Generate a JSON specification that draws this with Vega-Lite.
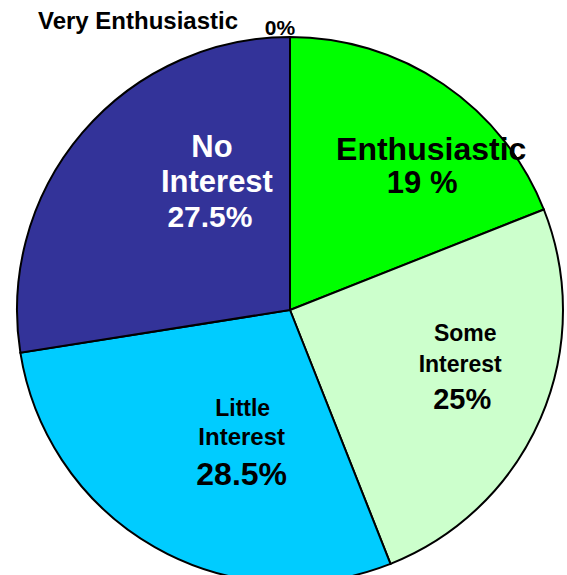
{
  "$schema": "https://vega.github.io/schema/vega-lite/v6.json",
  "autosize": "none",
  "width": 580,
  "height": 620,
  "padding": 0,
  "background": "white",
  "config": {"view": {"stroke": null}},
  "data": {
    "values": [
      {"cat": "Very Enthusiastic", "value": 0, "rank": 1, "l1": "Very Enthusiastic", "l2": "", "pct": "0%"},
      {"cat": "Enthusiastic", "value": 19, "rank": 2, "l1": "Enthusiastic", "l2": "", "pct": "19 %"},
      {"cat": "Some Interest", "value": 25, "rank": 3, "l1": "Some", "l2": "Interest", "pct": "25%"},
      {"cat": "Little Interest", "value": 28.5, "rank": 4, "l1": "Little", "l2": "Interest", "pct": "28.5%"},
      {"cat": "No Interest", "value": 27.5, "rank": 5, "l1": "No", "l2": "Interest", "pct": "27.5%"}
    ]
  },
  "encoding": {
    "theta": {"field": "value", "type": "quantitative", "stack": true},
    "order": {"field": "rank", "type": "quantitative"}
  },
  "layer": [
    {
      "mark": {"type": "arc", "radius": 273, "stroke": "black", "strokeWidth": 2},
      "encoding": {
        "color": {
          "field": "cat",
          "type": "nominal",
          "legend": null,
          "scale": {
            "domain": ["Very Enthusiastic", "Enthusiastic", "Some Interest", "Little Interest", "No Interest"],
            "range": ["#9999FF", "#00FF00", "#CCFFCC", "#00CCFF", "#333399"]
          }
        }
      }
    },
    {
      "mark": {"type": "text", "radius": 272, "dx": -152, "dy": -9, "fontSize": 24, "fontWeight": "bold", "font": "Liberation Sans", "align": "center", "baseline": "alphabetic", "fill": "black"},
      "encoding": {"text": {"condition": {"test": "datum.cat === 'Very Enthusiastic'", "field": "l1"}, "value": ""}}
    },
    {
      "mark": {"type": "text", "radius": 272, "dx": -10, "dy": -3, "fontSize": 21, "fontWeight": "bold", "font": "Liberation Sans", "align": "center", "baseline": "alphabetic", "fill": "black"},
      "encoding": {"text": {"condition": {"test": "datum.cat === 'Very Enthusiastic'", "field": "pct"}, "value": ""}}
    },
    {
      "mark": {"type": "text", "radius": 180, "dx": 40, "dy": -1, "fontSize": 32, "fontWeight": "bold", "font": "Liberation Sans", "align": "center", "baseline": "alphabetic", "fill": "black"},
      "encoding": {"text": {"condition": {"test": "datum.cat === 'Enthusiastic'", "field": "l1"}, "value": ""}}
    },
    {
      "mark": {"type": "text", "radius": 180, "dx": 31, "dy": 32, "fontSize": 31, "fontWeight": "bold", "font": "Liberation Sans", "align": "center", "baseline": "alphabetic", "fill": "black"},
      "encoding": {"text": {"condition": {"test": "datum.cat === 'Enthusiastic'", "field": "pct"}, "value": ""}}
    },
    {
      "mark": {"type": "text", "radius": 180, "dx": 10, "dy": -40, "fontSize": 23, "fontWeight": "bold", "font": "Liberation Sans", "align": "center", "baseline": "alphabetic", "fill": "black"},
      "encoding": {"text": {"condition": {"test": "datum.cat === 'Some Interest'", "field": "l1"}, "value": ""}}
    },
    {
      "mark": {"type": "text", "radius": 180, "dx": 5, "dy": -9, "fontSize": 23, "fontWeight": "bold", "font": "Liberation Sans", "align": "center", "baseline": "alphabetic", "fill": "black"},
      "encoding": {"text": {"condition": {"test": "datum.cat === 'Some Interest'", "field": "l2"}, "value": ""}}
    },
    {
      "mark": {"type": "text", "radius": 180, "dx": 7, "dy": 28, "fontSize": 29, "fontWeight": "bold", "font": "Liberation Sans", "align": "center", "baseline": "alphabetic", "fill": "black"},
      "encoding": {"text": {"condition": {"test": "datum.cat === 'Some Interest'", "field": "pct"}, "value": ""}}
    },
    {
      "mark": {"type": "text", "radius": 150, "dx": 27, "dy": -24, "fontSize": 23, "fontWeight": "bold", "font": "Liberation Sans", "align": "center", "baseline": "alphabetic", "fill": "black"},
      "encoding": {"text": {"condition": {"test": "datum.cat === 'Little Interest'", "field": "l1"}, "value": ""}}
    },
    {
      "mark": {"type": "text", "radius": 150, "dx": 26, "dy": 5, "fontSize": 24, "fontWeight": "bold", "font": "Liberation Sans", "align": "center", "baseline": "alphabetic", "fill": "black"},
      "encoding": {"text": {"condition": {"test": "datum.cat === 'Little Interest'", "field": "l2"}, "value": ""}}
    },
    {
      "mark": {"type": "text", "radius": 150, "dx": 26, "dy": 45, "fontSize": 32, "fontWeight": "bold", "font": "Liberation Sans", "align": "center", "baseline": "alphabetic", "fill": "black"},
      "encoding": {"text": {"condition": {"test": "datum.cat === 'Little Interest'", "field": "pct"}, "value": ""}}
    },
    {
      "mark": {"type": "text", "radius": 150, "dx": 36, "dy": -56, "fontSize": 31, "fontWeight": "bold", "font": "Liberation Sans", "align": "center", "baseline": "alphabetic", "fill": "white"},
      "encoding": {"text": {"condition": {"test": "datum.cat === 'No Interest'", "field": "l1"}, "value": ""}}
    },
    {
      "mark": {"type": "text", "radius": 150, "dx": 41, "dy": -21, "fontSize": 31, "fontWeight": "bold", "font": "Liberation Sans", "align": "center", "baseline": "alphabetic", "fill": "white"},
      "encoding": {"text": {"condition": {"test": "datum.cat === 'No Interest'", "field": "l2"}, "value": ""}}
    },
    {
      "mark": {"type": "text", "radius": 150, "dx": 34, "dy": 14, "fontSize": 30, "fontWeight": "bold", "font": "Liberation Sans", "align": "center", "baseline": "alphabetic", "fill": "white"},
      "encoding": {"text": {"condition": {"test": "datum.cat === 'No Interest'", "field": "pct"}, "value": ""}}
    }
  ]
}
